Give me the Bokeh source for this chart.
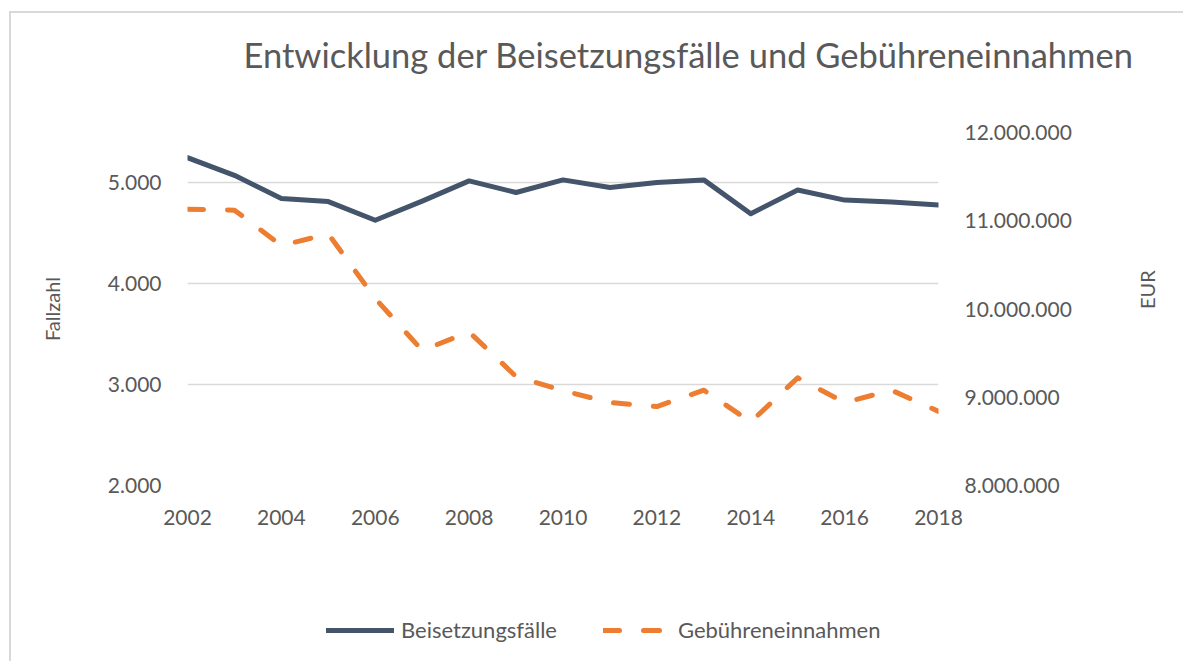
import math
from bokeh.plotting import figure
from bokeh.layouts import column
from bokeh.models import (Range1d, LinearAxis, FixedTicker, CustomJSTickFormatter,
                          Legend, LegendItem, ColumnDataSource)
from bokeh.embed import file_html
from bokeh.resources import INLINE

# ---- data ----
years = [2002, 2003, 2004, 2005, 2006, 2007, 2008, 2009, 2010,
         2011, 2012, 2013, 2014, 2015, 2016, 2017, 2018]
beisetzungsfaelle = [5250, 5075, 4845, 4815, 4630, 4820, 5020, 4905, 5030,
                     4955, 5005, 5030, 4695, 4930, 4830, 4812, 4782]
gebuehren = [11130000, 11120000, 10720000, 10850000, 10120000, 9530000, 9740000,
             9235000, 9075000, 8940000, 8895000, 9080000, 8720000, 9220000,
             8940000, 9080000, 8840000]
x_ticks = [2002, 2004, 2006, 2008, 2010, 2012, 2014, 2016, 2018]
left_ticks = [2000, 3000, 4000, 5000]
right_ticks = [8000000, 9000000, 10000000, 11000000, 12000000]

title_text = "Entwicklung der Beisetzungsfälle und Gebühreneinnahmen"
left_label = "Fallzahl"
right_label = "EUR"
series_names = ["Beisetzungsfälle", "Gebühreneinnahmen"]

FONT = "Lato"
GREY = "#595959"
DARK = "#44546A"
ORANGE = "#ED7D31"
DASH = "16 24"

src = ColumnDataSource(dict(year=years, faelle=beisetzungsfaelle, eur=gebuehren))

p = figure(frame_width=751, frame_height=353,
           x_range=Range1d(2002, 2018), y_range=Range1d(2000, 5500),
           output_backend="svg", toolbar_location=None,
           min_border_left=176, min_border_right=245,
           min_border_top=119, min_border_bottom=60)
p.outline_line_color = None
p.extra_y_ranges = {"eur": Range1d(8000000, 12000000)}

# title (trailing empty line lifts the text within the top border)
p.title.text = title_text + "\n"
p.title.text_font = FONT
p.title.text_font_size = "34.5px"
p.title.text_font_style = "normal"
p.title.text_color = GREY
p.title.align = "left"
p.title.offset = 56
p.title.standoff = 33

fmt_code = "return Math.round(tick).toString().replace(/\\B(?=(\\d{3})+(?!\\d))/g, '.');"

# x axis
xa = p.xaxis[0]
xa.ticker = FixedTicker(ticks=x_ticks)
xa.axis_line_color = None
xa.major_tick_line_color = None
xa.minor_tick_line_color = None
xa.major_tick_out = 0
xa.major_label_text_font = FONT
xa.major_label_text_font_size = "21px"
xa.major_label_text_color = GREY
xa.major_label_standoff = 24

# left axis
ya = p.yaxis[0]
ya.ticker = FixedTicker(ticks=left_ticks)
ya.formatter = CustomJSTickFormatter(code=fmt_code)
ya.axis_line_color = None
ya.major_tick_line_color = None
ya.minor_tick_line_color = None
ya.major_label_text_font = FONT
ya.major_label_text_font_size = "21px"
ya.major_label_text_color = GREY
ya.major_label_standoff = 20
ya.axis_label = left_label
ya.axis_label_text_font = FONT
ya.axis_label_text_font_size = "20px"
ya.axis_label_text_font_style = "normal"
ya.axis_label_text_color = GREY
ya.axis_label_standoff = 41

# right axis
ra = LinearAxis(y_range_name="eur", ticker=FixedTicker(ticks=right_ticks),
                formatter=CustomJSTickFormatter(code=fmt_code))
ra.axis_line_color = None
ra.major_tick_line_color = None
ra.minor_tick_line_color = None
ra.major_label_text_font = FONT
ra.major_label_text_font_size = "21px"
ra.major_label_text_color = GREY
ra.major_label_standoff = 20
ra.axis_label = right_label
ra.axis_label_text_font = FONT
ra.axis_label_text_font_size = "20px"
ra.axis_label_text_font_style = "normal"
ra.axis_label_text_color = GREY
ra.axis_label_standoff = 72
ra.axis_label_orientation = math.pi / 2
p.add_layout(ra, "right")

# grid
p.xgrid.visible = False
p.ygrid.ticker = FixedTicker(ticks=left_ticks)
p.ygrid.grid_line_color = "#d9d9d9"
p.ygrid.grid_line_width = 1.5

# lines
p.line("year", "faelle", source=src, line_color=DARK, line_width=5,
       line_join="round", line_cap="round")
p.line("year", "eur", source=src, y_range_name="eur", line_color=ORANGE,
       line_width=5, line_join="round", line_cap="round", line_dash=DASH)

# legend strip below the chart (same series, out of view; legend only)
q = figure(width=1172, height=116, x_range=Range1d(0, 1), y_range=Range1d(0, 1),
           output_backend="svg", toolbar_location=None,
           x_axis_location=None, y_axis_location=None, min_border=0)
q.outline_line_color = None
q.grid.visible = False
l1 = q.line("year", "faelle", source=src, line_color=DARK, line_width=5,
            line_join="round", line_cap="round")
l2 = q.line("year", "eur", source=src, line_color=ORANGE, line_width=5,
            line_join="round", line_cap="round", line_dash=DASH)

legend = Legend(items=[LegendItem(label=series_names[0], renderers=[l1]),
                       LegendItem(label=series_names[1], renderers=[l2])],
                location=(139, 18), orientation="horizontal")
legend.margin = 0
legend.padding = 0
legend.border_line_color = None
legend.background_fill_alpha = 0
legend.label_text_font = FONT
legend.label_text_font_size = "22px"
legend.label_text_color = GREY
legend.glyph_width = 68
legend.glyph_height = 26
legend.label_height = 26
legend.label_standoff = 7
legend.spacing = 46
q.add_layout(legend)

layout = column(p, q, spacing=0)
layout.styles = {"margin-left": "9px", "margin-top": "11px",
                 "border-left": "2px solid #d9d9d9", "border-top": "2px solid #d9d9d9"}

open("out.html", "w").write(file_html(layout, INLINE))
